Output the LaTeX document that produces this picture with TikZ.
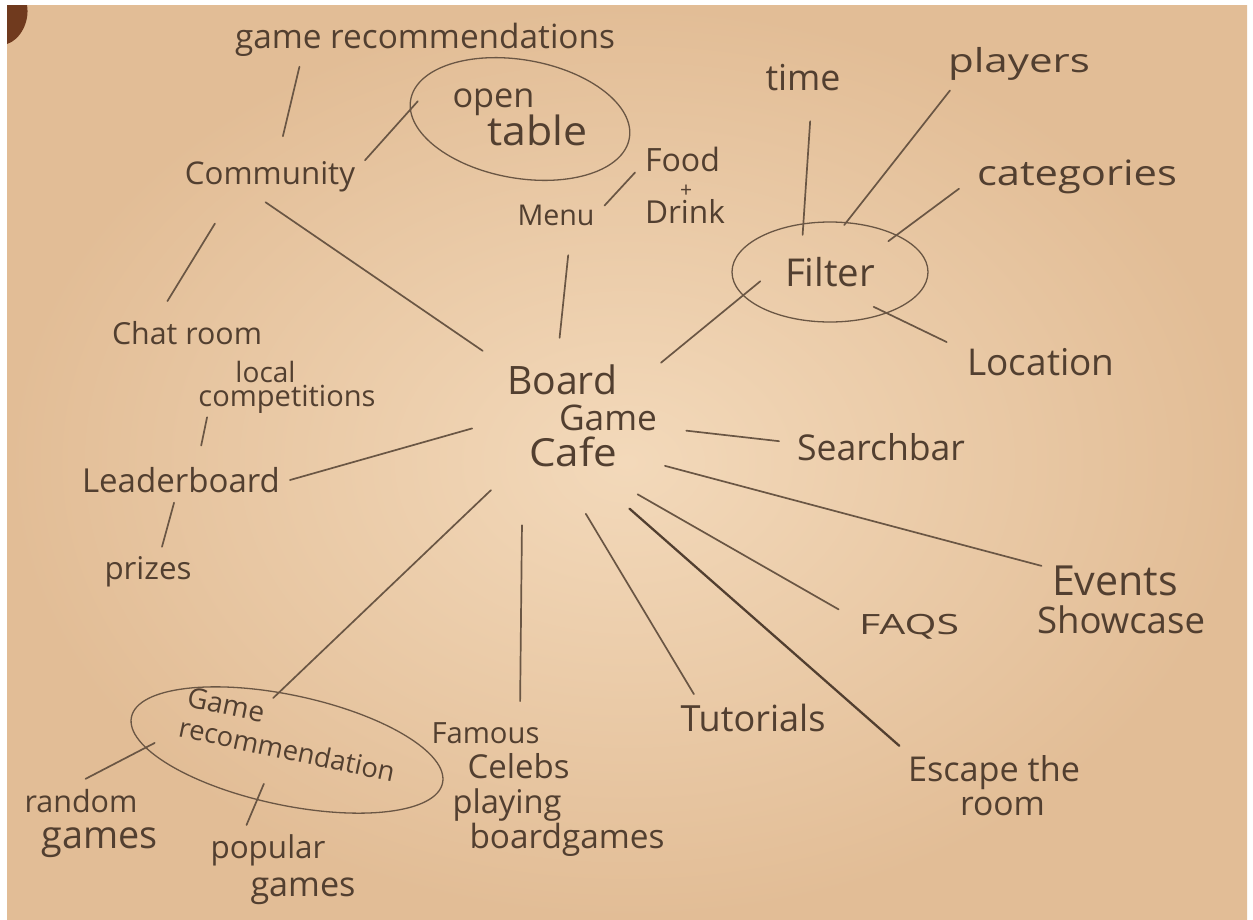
\documentclass[tikz,border=0pt]{standalone}
\usepackage{fontspec}
\setmainfont{Open Sans}
\usepackage{graphicx}
\usetikzlibrary{shapes.geometric}
\definecolor{ink}{RGB}{82,63,48}
\definecolor{pencil}{RGB}{106,86,68}
\definecolor{paperlight}{RGB}{243,217,186}
\definecolor{paperdark}{RGB}{226,189,150}
\definecolor{thumb}{RGB}{112,58,30}
\newcommand{\tw}[2]{\resizebox{#1pt}{!}{#2}}
\newcommand{\twh}[3]{\resizebox*{#1pt}{#2pt}{#3}}
\begin{document}
\begin{tikzpicture}[x=1pt,y=-1pt,
  lbl/.style={text=ink, inner sep=2pt, outer sep=8pt, font=\fontsize{20}{24}\selectfont},
  ml/.style={lbl, align=left, font=\fontsize{20}{#1}\selectfont},
  bubble/.style={ellipse, draw=pencil, line width=1.3pt, text=ink, inner sep=0pt, outer sep=0pt},
  link/.style={draw=pencil, line width=1.7pt, line cap=round},
  darklink/.style={draw=ink, line width=2.3pt, line cap=round}]
\useasboundingbox (0,0) rectangle (1253,919);
\fill[white] (0,0) rectangle (1253,919);
\shade[inner color=paperlight, outer color=paperdark] (7,5) rectangle (1247,919);
\fill[thumb] (7,44) .. controls (20,40) and (30,22) .. (27,5) -- (7,5) -- cycle;

% nodes
\node[lbl] (gr) at (425,40) {\tw{380}{game recommendations}};
\node[lbl] (com) at (270,177) {\tw{170}{Community}};
\node[bubble, rotate=-10, minimum width=222pt, minimum height=114pt] (ot) at (520,119)
  {\rotatebox{10}{\begin{tabular}{@{}l@{}}\tw{82}{open}\\[2pt]\hspace*{35pt}\twh{100}{31}{table}\end{tabular}}};
\node[lbl] (menu) at (556,215) {\tw{77}{Menu}};
\node[ml=26] (food) at (685,185) {\tw{75}{Food}\\\hspace*{35pt}\tw{12}{+}\\\tw{80}{Drink}};
\node[lbl] (chat) at (187,333) {\tw{150}{Chat room}};
\node[ml=24] (loc) at (287,387) {\hspace*{37pt}\tw{60}{local}\\\tw{177}{competitions}};
\node[lbl] (lead) at (181,480) {\tw{198}{Leaderboard}};
\node[lbl] (priz) at (148,572) {\tw{87}{prizes}};
\node[ml=36, ellipse, minimum width=212pt, minimum height=160pt, inner sep=0pt, outer sep=0pt] (board) at (582,416)
  {\tw{110}{Board}\\\hspace*{52pt}\tw{98}{Game}\\\hspace*{22pt}\twh{88}{30}{Cafe}};
\node[bubble, minimum width=196pt, minimum height=100pt] (fil) at (830,272) {\tw{90}{Filter}};
\node[lbl] (time) at (803,78) {\tw{75}{time}};
\node[lbl] (play) at (1019,64) {\twh{142}{33}{players}};
\node[lbl] (cat) at (1077,177) {\twh{200}{34}{categories}};
\node[lbl] (loca) at (1041,362) {\tw{147}{Location}};
\node[lbl] (search) at (881,447) {\tw{168}{Searchbar}};
\node[ml=38] (evt) at (1121,600) {\hspace*{15pt}\twh{126}{30}{Events}\\\tw{168}{Showcase}};
\node[lbl] (faq) at (909,627) {\twh{100}{25}{FAQS}};
\node[ml=34] (esc) at (994,786) {\tw{172}{Escape the}\\\hspace*{52pt}\tw{85}{room}};
\node[lbl] (tut) at (753,718) {\tw{145}{Tutorials}};
\node[ml=35] (fam) at (548,790) {\tw{108}{Famous}\\\hspace*{36pt}\tw{102}{Celebs}\\\hspace*{21pt}\tw{109}{playing}\\\hspace*{38pt}\tw{195}{boardgames}};
\node[bubble, rotate=-12, minimum width=318pt, minimum height=110pt] (grec) at (287,750)
  {\raisebox{12pt}[0pt][0pt]{\begin{tabular}[c]{@{}l@{}}\hspace*{2pt}\tw{78}{Game}\\[7pt]\tw{220}{recommendation}\end{tabular}}};
\node[ml=36] (rand) at (91,823) {\tw{113}{random}\\\hspace*{17pt}\twh{116}{30}{games}};
\node[ml=38] (pop) at (283,870) {\tw{115}{popular}\\\hspace*{40pt}\tw{105}{games}};

% connectors
\draw[link, shorten >=16pt] (gr.-168) -- (com.70);
\draw[link, shorten >=-11pt] (com.10) -- (ot.185);
\draw[link] (menu.11) -- (food.166);
\draw[link, shorten <=20pt] (menu.-55) -- (board.106);
\draw[link, shorten >=23pt] (com.-100) -- (board.147);
\draw[link, shorten <=25pt, shorten >=12pt] (com.-149) -- (chat.140);
\draw[link, shorten <=-6pt, shorten >=12pt] (loc.-156) -- (lead.52);
\draw[link, shorten >=5pt] (lead.0) -- (board.186);
\draw[link] (lead.-107) -- (priz.61);
\draw[link, shorten >=-22pt] (board.34) -- (fil.195);
\draw[link, shorten <=20pt, shorten >=-11pt] (time.-70) -- (fil.119);
\draw[link, shorten >=-3pt] (play.-159) -- (fil.72);
\draw[link, shorten <=10pt, shorten >=-10pt] (cat.-177) -- (fil.29);
\draw[link, shorten <=-14pt, shorten >=12pt] (fil.-36) -- (loca.170);
\draw[link, shorten >=8pt] (board.-8) -- (search.177);
\draw[link, shorten >=-15pt] (board.-31) -- (evt.158);
\draw[link, shorten <=12pt, shorten >=12pt] (board.-58) -- (faq.169);
\draw[darklink, shorten <=24pt] (board.-69) -- (esc.157);
\draw[link, shorten <=21pt] (board.-95) -- (tut.158);
\draw[link, shorten <=43pt, shorten >=12pt] (board.-132) -- (fam.110);
\draw[link, shorten <=24pt, shorten >=-8pt] (board.-142) -- (grec.110);
\draw[link, shorten <=-10pt] (grec.191) -- (rand.97);
\draw[link, shorten <=-17pt] (grec.-109) -- (pop.129);
\end{tikzpicture}
\end{document}
